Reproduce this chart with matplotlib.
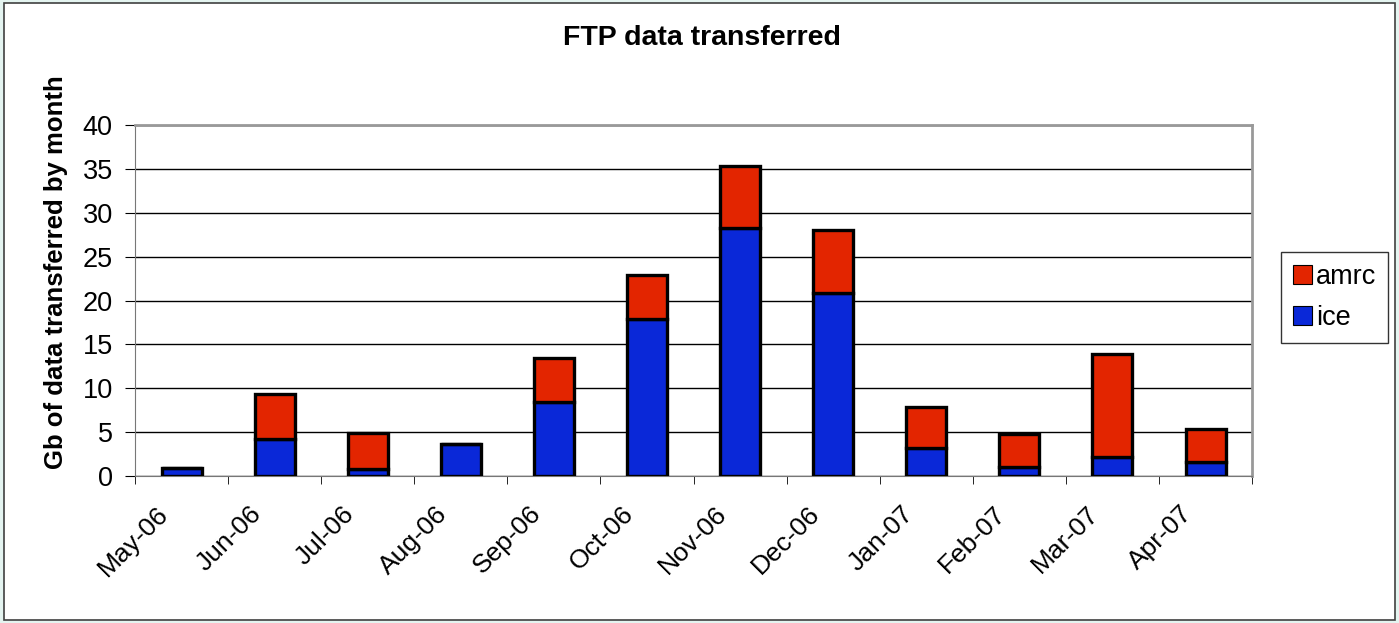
import numpy as np
import matplotlib.pyplot as plt
import matplotlib.transforms as mtrans
from matplotlib.patches import Rectangle

plt.rcParams['font.family'] = ['Liberation Sans', 'DejaVu Sans']

months = ['May-06', 'Jun-06', 'Jul-06', 'Aug-06', 'Sep-06', 'Oct-06',
          'Nov-06', 'Dec-06', 'Jan-07', 'Feb-07', 'Mar-07', 'Apr-07']
ice = [0.9, 4.2, 0.8, 3.6, 8.4, 17.9, 28.3, 20.9, 3.2, 1.0, 2.2, 1.6]
amrc = [0.0, 5.2, 4.1, 0.0, 5.1, 5.0, 7.0, 7.2, 4.7, 3.8, 11.7, 3.7]

fig = plt.figure(figsize=(13.99, 6.23), dpi=100, facecolor='#e4f4f0')
ax = fig.add_axes([0.0965, 0.236, 0.7985, 0.563])

# fond blanc et cadre de la figure
fig.patches.append(Rectangle((0.003, 0.005), 0.994, 0.99, transform=fig.transFigure,
                             facecolor='white', edgecolor='#404040', linewidth=1.2,
                             zorder=-10))

x = np.arange(len(months))
w = 0.43
ax.bar(x, ice, w, color='#0a28d8', edgecolor='black', linewidth=2.4, label='ice', zorder=3)
ax.bar(x, amrc, w, bottom=ice, color='#e32500', edgecolor='black', linewidth=2.4,
       label='amrc', zorder=3)

ax.set_xlim(-0.5, len(months) - 0.5)
ax.set_ylim(0, 40)
ax.set_yticks(range(0, 41, 5))
ax.yaxis.grid(True, color='black', linewidth=1)
ax.set_axisbelow(True)

ax.set_xticks(x)
ax.set_xticklabels(months, rotation=45, ha='right', va='center',
                   rotation_mode='anchor', fontsize=19)
ax.tick_params(axis='x', length=0, pad=0)
offset = mtrans.ScaledTranslation(-17 / 100, -34 / 100, fig.dpi_scale_trans)
for lbl in ax.get_xticklabels():
    lbl.set_transform(lbl.get_transform() + offset)
ax.set_xticks(np.arange(-0.5, len(months)), minor=True)
ax.tick_params(axis='x', which='minor', length=6, direction='out')
ax.tick_params(axis='y', labelsize=19.5, length=7, direction='out', pad=9)

for s in ['top', 'right']:
    ax.spines[s].set_color('#999999')
    ax.spines[s].set_linewidth(2)
ax.spines['left'].set_color('#777777')
ax.spines['bottom'].set_color('#777777')

ax.set_ylabel('Gb of data transferred by month', fontsize=18.5, fontweight='bold')
ax.yaxis.set_label_coords(-0.06, 0.58)
fig.text(0.502, 0.939, 'FTP data transferred', fontsize=20.5, fontweight='bold',
         ha='center', va='center')

handles, labels = ax.get_legend_handles_labels()
leg = fig.legend(handles[::-1], labels[::-1], loc='center', bbox_to_anchor=(0.954, 0.522),
                 fontsize=19.5, frameon=True, fancybox=False, edgecolor='black',
                 handlelength=0.7, handleheight=0.7, handletextpad=0.15,
                 borderpad=0.45, labelspacing=0.55, borderaxespad=0)
leg.get_frame().set_linewidth(1)
for h in leg.legend_handles:
    h.set_linewidth(0.8)

fig.savefig('out.png', dpi=100, facecolor=fig.get_facecolor())
